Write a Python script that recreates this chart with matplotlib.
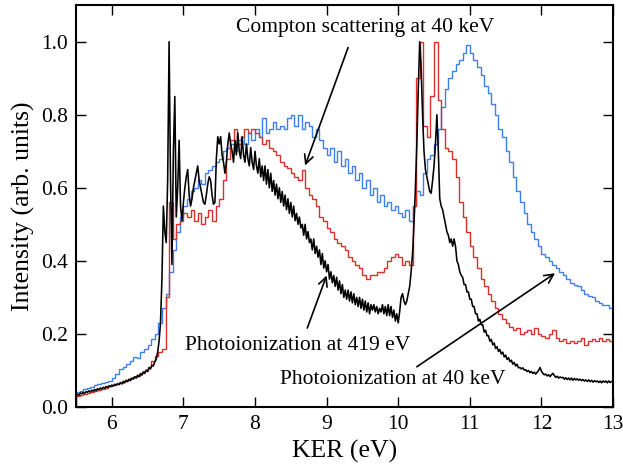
import numpy as np
import matplotlib.pyplot as plt

plt.rcParams['font.family'] = ['Liberation Serif', 'DejaVu Serif']

# ---- data -------------------------------------------------------------
# step histograms, 0.05 eV bins from 5.5 to 13.0 eV
hist_lo, hist_hi = 5.5, 13.0

compton_40kev = [
    0.040, 0.045, 0.050, 0.052, 0.055, 0.060, 0.062, 0.065, 0.068, 0.072,
    0.078, 0.090, 0.105, 0.110, 0.118, 0.125, 0.138, 0.135, 0.150, 0.160,
    0.170, 0.185, 0.200, 0.230, 0.270, 0.310, 0.370, 0.430, 0.480, 0.520,
    0.550, 0.570, 0.590, 0.600, 0.620, 0.610, 0.640, 0.650, 0.660, 0.670,
    0.680, 0.700, 0.710, 0.720, 0.700, 0.730, 0.740, 0.720, 0.750, 0.730,
    0.760, 0.740, 0.790, 0.750, 0.760, 0.780, 0.760, 0.770, 0.760, 0.790,
    0.800, 0.770, 0.800, 0.760, 0.780, 0.770, 0.740, 0.760, 0.730, 0.710,
    0.690, 0.710, 0.670, 0.700, 0.660, 0.680, 0.640, 0.660, 0.620, 0.640,
    0.600, 0.620, 0.580, 0.600, 0.560, 0.580, 0.550, 0.560, 0.540, 0.550,
    0.530, 0.520, 0.540, 0.510, 0.550, 0.590, 0.580, 0.640, 0.680, 0.690,
    0.720, 0.760, 0.820, 0.870, 0.900, 0.920, 0.940, 0.950, 0.970, 0.990,
    0.970, 0.950, 0.930, 0.910, 0.880, 0.860, 0.830, 0.800, 0.760, 0.740,
    0.700, 0.670, 0.630, 0.590, 0.560, 0.530, 0.500, 0.480, 0.460, 0.440,
    0.420, 0.410, 0.400, 0.390, 0.380, 0.370, 0.360, 0.350, 0.340, 0.335,
    0.330, 0.320, 0.310, 0.305, 0.300, 0.290, 0.285, 0.280, 0.280, 0.270,
]

photo_40kev = [
    0.030, 0.032, 0.035, 0.038, 0.040, 0.043, 0.047, 0.050, 0.053, 0.056,
    0.060, 0.063, 0.066, 0.070, 0.074, 0.078, 0.082, 0.086, 0.092, 0.098,
    0.110, 0.125, 0.140, 0.150, 0.160, 0.300, 0.560, 0.460, 0.500, 0.510,
    0.530, 0.520, 0.540, 0.510, 0.530, 0.500, 0.520, 0.540, 0.510, 0.550,
    0.570, 0.620, 0.680, 0.730, 0.760, 0.720, 0.740, 0.760, 0.750, 0.760,
    0.750, 0.740, 0.720, 0.730, 0.710, 0.700, 0.690, 0.670, 0.660, 0.655,
    0.640, 0.630, 0.620, 0.650, 0.600, 0.580, 0.570, 0.550, 0.520, 0.510,
    0.490, 0.480, 0.460, 0.450, 0.440, 0.430, 0.410, 0.400, 0.390, 0.380,
    0.360, 0.350, 0.360, 0.360, 0.370, 0.370, 0.380, 0.400, 0.410, 0.420,
    0.410, 0.390, 0.400, 0.390, 0.550, 0.900, 1.000, 0.770, 0.740, 0.850,
    1.000, 0.840, 0.760, 0.710, 0.700, 0.680, 0.630, 0.560, 0.520, 0.480,
    0.440, 0.410, 0.380, 0.350, 0.330, 0.310, 0.290, 0.270, 0.255, 0.240,
    0.230, 0.220, 0.210, 0.215, 0.200, 0.205, 0.210, 0.200, 0.215, 0.200,
    0.195, 0.190, 0.200, 0.210, 0.190, 0.180, 0.185, 0.175, 0.180, 0.175,
    0.180, 0.190, 0.170, 0.180, 0.185, 0.180, 0.190, 0.180, 0.185, 0.180,
]

# fine-binned trace, 0.02 eV spacing from 5.5 to 13.0 eV
photo_419ev = [
    0.030, 0.035, 0.032, 0.038, 0.036, 0.040, 0.037, 0.042, 0.040, 0.044,
    0.041, 0.046, 0.043, 0.048, 0.045, 0.050, 0.047, 0.052, 0.049, 0.054,
    0.051, 0.056, 0.053, 0.058, 0.055, 0.060, 0.057, 0.062, 0.059, 0.064,
    0.061, 0.067, 0.063, 0.070, 0.066, 0.073, 0.069, 0.076, 0.072, 0.079,
    0.076, 0.083, 0.079, 0.087, 0.083, 0.091, 0.087, 0.096, 0.092, 0.101,
    0.098, 0.107, 0.104, 0.114, 0.112, 0.124, 0.130, 0.150, 0.180, 0.230,
    0.350, 0.550, 0.480, 0.450, 0.620, 1.000, 0.620, 0.390, 0.700, 0.850,
    0.520, 0.600, 0.730, 0.550, 0.510, 0.560, 0.600, 0.630, 0.650, 0.580,
    0.550, 0.570, 0.600, 0.620, 0.640, 0.660, 0.620, 0.600, 0.580, 0.560,
    0.555, 0.580, 0.610, 0.630, 0.620, 0.580, 0.555, 0.560, 0.680, 0.740,
    0.720, 0.740, 0.690, 0.670, 0.640, 0.670, 0.720, 0.750, 0.720, 0.700,
    0.670, 0.730, 0.690, 0.750, 0.700, 0.680, 0.740, 0.690, 0.670, 0.720,
    0.680, 0.660, 0.710, 0.670, 0.650, 0.700, 0.660, 0.640, 0.680, 0.630,
    0.660, 0.620, 0.660, 0.610, 0.650, 0.600, 0.640, 0.590, 0.620, 0.580,
    0.610, 0.570, 0.600, 0.560, 0.590, 0.550, 0.580, 0.540, 0.570, 0.530,
    0.560, 0.520, 0.550, 0.510, 0.530, 0.500, 0.520, 0.490, 0.500, 0.470,
    0.500, 0.460, 0.480, 0.450, 0.460, 0.430, 0.460, 0.420, 0.440, 0.410,
    0.430, 0.390, 0.420, 0.380, 0.400, 0.370, 0.390, 0.350, 0.370, 0.340,
    0.360, 0.330, 0.355, 0.320, 0.345, 0.310, 0.335, 0.300, 0.320, 0.295,
    0.320, 0.290, 0.315, 0.285, 0.310, 0.280, 0.300, 0.275, 0.300, 0.270,
    0.295, 0.265, 0.290, 0.260, 0.285, 0.255, 0.280, 0.265, 0.280, 0.260,
    0.275, 0.255, 0.270, 0.260, 0.280, 0.255, 0.275, 0.250, 0.280, 0.250,
    0.275, 0.245, 0.265, 0.235, 0.255, 0.230, 0.260, 0.300, 0.310, 0.290,
    0.280, 0.290, 0.310, 0.330, 0.370, 0.420, 0.500, 0.600, 0.720, 0.870,
    1.000, 0.930, 0.800, 0.700, 0.650, 0.630, 0.610, 0.590, 0.585, 0.620,
    0.660, 0.720, 0.800, 0.700, 0.570, 0.550, 0.540, 0.520, 0.500, 0.480,
    0.470, 0.450, 0.460, 0.440, 0.460, 0.440, 0.400, 0.390, 0.370, 0.360,
    0.355, 0.335, 0.335, 0.315, 0.315, 0.295, 0.295, 0.275, 0.275, 0.255,
    0.255, 0.235, 0.240, 0.225, 0.225, 0.205, 0.210, 0.195, 0.195, 0.180,
    0.185, 0.170, 0.175, 0.160, 0.165, 0.152, 0.157, 0.145, 0.150, 0.137,
    0.142, 0.130, 0.135, 0.124, 0.128, 0.117, 0.122, 0.112, 0.117, 0.107,
    0.108, 0.104, 0.107, 0.101, 0.102, 0.097, 0.100, 0.094, 0.097, 0.092,
    0.095, 0.090, 0.095, 0.100, 0.108, 0.098, 0.092, 0.088, 0.090, 0.085,
    0.088, 0.083, 0.088, 0.092, 0.086, 0.081, 0.084, 0.079, 0.082, 0.080,
    0.081, 0.076, 0.080, 0.075, 0.079, 0.074, 0.079, 0.073, 0.078, 0.074,
    0.077, 0.073, 0.076, 0.072, 0.075, 0.071, 0.074, 0.070, 0.074, 0.069,
    0.073, 0.068, 0.072, 0.069, 0.071, 0.067, 0.071, 0.066, 0.071, 0.068,
    0.071, 0.066, 0.071, 0.067, 0.070, 0.068,
]

x_ticks = [6, 7, 8, 9, 10, 11, 12, 13]
y_ticks = [0.0, 0.2, 0.4, 0.6, 0.8, 1.0]

# ---- figure -----------------------------------------------------------
fig = plt.figure(figsize=(6.23, 4.71), dpi=100)
ax = fig.add_axes([0.122, 0.136, 0.862, 0.853])

edges = np.linspace(hist_lo, hist_hi, len(compton_40kev) + 1)
ax.stairs(compton_40kev, edges, color="#3d7ef0", linewidth=1.0)
edges = np.linspace(hist_lo, hist_hi, len(photo_40kev) + 1)
ax.stairs(photo_40kev, edges, color="#d8302a", linewidth=1.0)
x_fine = np.linspace(hist_lo, hist_hi, len(photo_419ev))
ax.plot(x_fine, photo_419ev, color="black", linewidth=1.15)

ax.set_xlim(5.5, 13.0)
ax.set_ylim(0.0, 1.1)
ax.set_xticks(x_ticks)
ax.set_yticks(y_ticks)
ax.set_yticklabels([f"{v:.1f}" for v in y_ticks])
ax.tick_params(direction="in", top=True, right=True, length=7, width=1.0,
               labelsize=15.5, pad=6)
for s in ax.spines.values():
    s.set_linewidth(1.5)
ax.set_xlabel("KER (eV)", fontsize=18.5)
ax.set_ylabel("Intensity (arb. units)", fontsize=18.5)

arrow = dict(arrowstyle="->", color="black", lw=1.2, shrinkA=0, shrinkB=0,
             mutation_scale=16)
ax.text(9.54, 1.038, "Compton scattering at 40 keV", ha="center",
        va="center", fontsize=15.5)
ax.annotate("", xy=(8.70, 0.661), xytext=(9.30, 0.984), arrowprops=arrow)
ax.text(8.60, 0.169, "Photoionization at 419 eV", ha="center",
        va="center", fontsize=15.5)
ax.annotate("", xy=(9.00, 0.36), xytext=(8.73, 0.216), arrowprops=arrow)
ax.text(9.93, 0.074, "Photoionization at 40 keV", ha="center",
        va="center", fontsize=15.5)
ax.annotate("", xy=(12.19, 0.366), xytext=(10.26, 0.11), arrowprops=arrow)

fig.savefig("out.png", dpi=100)
